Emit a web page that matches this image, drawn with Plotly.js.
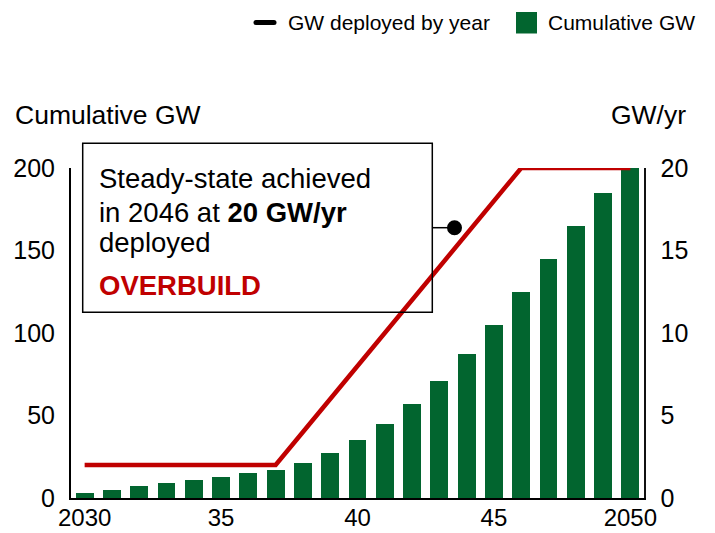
<!DOCTYPE html>
<html>
<head>
<meta charset="utf-8">
<script src="https://cdn.plot.ly/plotly-3.0.1.min.js"></script>
<style>
  html, body { margin: 0; padding: 0; background: #fff; }
  #chart { width: 715px; height: 533px; }
</style>
</head>
<body>
<div id="chart"></div>
<script>
// ---- Data ----
const years = [2030, 2031, 2032, 2033, 2034, 2035, 2036, 2037, 2038, 2039, 2040,
               2041, 2042, 2043, 2044, 2045, 2046, 2047, 2048, 2049, 2050];
const cumulativeGW = [3, 5, 7, 9, 11, 13, 15, 17, 21, 27, 35,
                      45, 57, 71, 87, 105, 125, 145, 165, 185, 200];
const gwPerYear = [2, 2, 2, 2, 2, 2, 2, 2, 4, 6, 8,
                   10, 12, 14, 16, 18, 20, 20, 20, 20, 20];
const xTickVals = [2030, 2035, 2040, 2045, 2050];
const xTickText = ["2030", "35", "40", "45", "2050"];
const yLeftTicks = [0, 50, 100, 150, 200];
const yRightTicks = [0, 5, 10, 15, 20];

// ---- Geometry helpers (pixel -> paper) ----
const W = 715, H = 533;
const L = 71, R = 644, T = 168, B = 498;
const px = x => (x - L) / (R - L);
const py = y => (B - y) / (B - T);

const FONT = "Liberation Sans, Arial, Helvetica, sans-serif";
const GREEN = "#02652f";
const RED = "#c00000";

const traces = [
  {
    type: "bar",
    name: "Cumulative GW",
    x: years,
    y: cumulativeGW,
    width: 0.65,
    marker: { color: GREEN },
    yaxis: "y",
    showlegend: false,
    hoverinfo: "x+y"
  },
  {
    type: "scatter",
    mode: "lines",
    name: "GW deployed by year",
    x: years,
    y: gwPerYear,
    line: { color: RED, width: 4.5 },
    yaxis: "y2",
    showlegend: false,
    cliponaxis: false
  }
];

const ann = (text, x, y, opts) => Object.assign({
  text: text, xref: "paper", yref: "paper", x: px(x), y: py(y),
  xanchor: "left", yanchor: "middle", showarrow: false,
  font: { family: FONT, size: 25, color: "#000" }
}, opts || {});

const layout = {
  width: W, height: H,
  margin: { l: L, r: W - R, t: T, b: H - B, pad: 0 },
  paper_bgcolor: "#fff",
  plot_bgcolor: "#fff",
  showlegend: false,
  bargap: 0,
  xaxis: {
    range: [2029.5, 2050.5],
    tickmode: "array",
    tickvals: xTickVals,
    ticktext: xTickText,
    ticks: "",
    showgrid: false,
    zeroline: false,
    showline: true,
    linecolor: "#000",
    linewidth: 2,
    ticklabelstandoff: -3,
    tickfont: { family: FONT, size: 24, color: "#000" },
    fixedrange: true
  },
  yaxis: {
    range: [0, 200],
    tickmode: "array",
    tickvals: yLeftTicks,
    ticks: "",
    showgrid: false,
    zeroline: false,
    showline: true,
    linecolor: "#000",
    linewidth: 2,
    ticklabelstandoff: 9,
    tickfont: { family: FONT, size: 25, color: "#000" },
    fixedrange: true
  },
  yaxis2: {
    range: [0, 20],
    overlaying: "y",
    side: "right",
    tickmode: "array",
    tickvals: yRightTicks,
    ticks: "",
    showgrid: false,
    zeroline: false,
    showline: true,
    linecolor: "#111",
    linewidth: 1.5,
    ticklabelstandoff: 10,
    tickfont: { family: FONT, size: 25, color: "#000" },
    fixedrange: true
  },
  shapes: [
    // callout box
    { type: "rect", xref: "paper", yref: "paper",
      x0: px(82.7), x1: px(432.3), y0: py(312.3), y1: py(143.3),
      line: { color: "#000", width: 1.5 }, fillcolor: "rgba(255,255,255,0)", layer: "above" },
    // connector
    { type: "line", xref: "paper", yref: "paper",
      x0: px(432.3), x1: px(452), y0: py(227.7), y1: py(227.7),
      line: { color: "#000", width: 1.5 } },
    // dot
    { type: "circle", xref: "paper", yref: "paper",
      x0: px(447), x1: px(462), y0: py(235.2), y1: py(220.2),
      line: { color: "#000", width: 0 }, fillcolor: "#000" },
    // legend: line symbol
    { type: "line", xref: "paper", yref: "paper",
      x0: px(256), x1: px(274), y0: py(22.5), y1: py(22.5),
      line: { color: "#000", width: 5 } },
    { type: "circle", xref: "paper", yref: "paper",
      x0: px(253.5), x1: px(258.5), y0: py(25), y1: py(20),
      line: { width: 0 }, fillcolor: "#000" },
    { type: "circle", xref: "paper", yref: "paper",
      x0: px(271.5), x1: px(276.5), y0: py(25), y1: py(20),
      line: { width: 0 }, fillcolor: "#000" },
    // legend: bar symbol
    { type: "rect", xref: "paper", yref: "paper",
      x0: px(516), x1: px(537), y0: py(33.5), y1: py(12),
      line: { width: 0 }, fillcolor: GREEN }
  ],
  annotations: [
    // axis titles
    ann("Cumulative GW", 13, 115, { font: { family: FONT, size: 26.5, color: "#000" } }),
    ann("GW/yr", 688, 115, { xanchor: "right", font: { family: FONT, size: 26.5, color: "#000" } }),
    // legend texts
    ann("GW deployed by year", 286, 23, { font: { family: FONT, size: 21, color: "#000" } }),
    ann("Cumulative GW", 546, 23, { font: { family: FONT, size: 21, color: "#000" } }),
    // callout text
    ann("Steady-state achieved", 97, 178, { font: { family: FONT, size: 27.5, color: "#000" } }),
    ann("in 2046 at <b>20 GW/yr</b>", 97, 212, { font: { family: FONT, size: 27.5, color: "#000" } }),
    ann("deployed", 97, 242, { font: { family: FONT, size: 27.5, color: "#000" } }),
    ann("<b>OVERBUILD</b>", 97, 285, { font: { family: FONT, size: 27.5, color: RED } })
  ]
};

Plotly.newPlot("chart", traces, layout, { displayModeBar: false, staticPlot: true });
</script>
</body>
</html>
